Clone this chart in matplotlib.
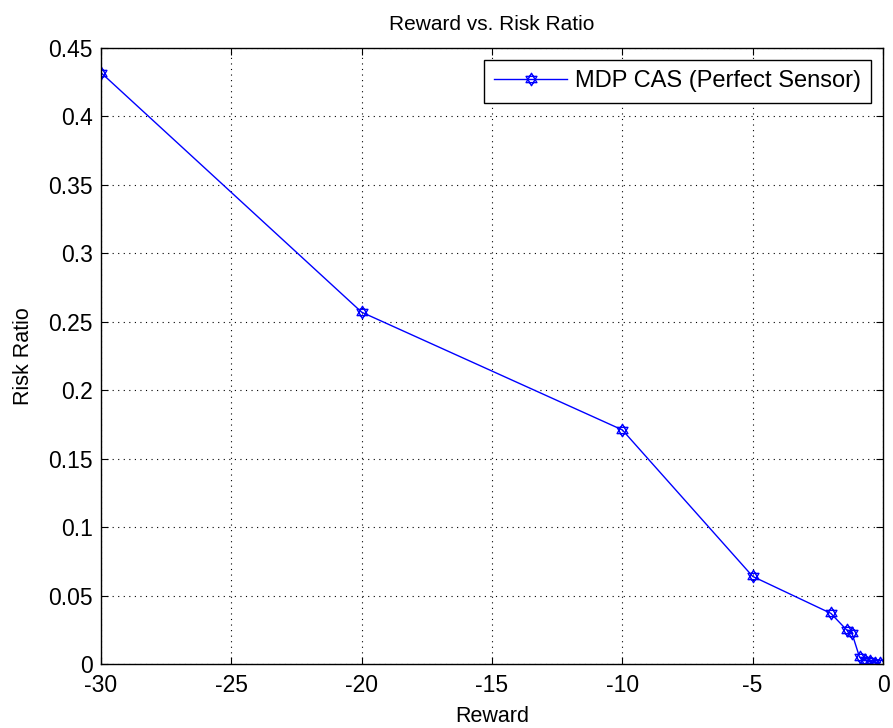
import numpy as np
import matplotlib.pyplot as plt
from matplotlib.path import Path

plt.rcParams['font.family'] = ['Liberation Sans', 'DejaVu Sans']
plt.rcParams['axes.unicode_minus'] = False

# reward setting vs. resulting risk ratio
reward = [-30, -20, -10, -5, -2, -1.4, -1.2, -0.9, -0.7, -0.5, -0.3, -0.1]
risk_ratio = [0.432, 0.257, 0.171, 0.064, 0.037, 0.025, 0.023, 0.005, 0.003, 0.002, 0.001, 0.001]

# hexagram marker: two overlapping triangles
ang = np.deg2rad(np.array([90, 210, 330]))
tri_up = np.column_stack([np.cos(ang), np.sin(ang)])
tri_dn = -tri_up
verts = np.vstack([tri_up, tri_up[:1], tri_dn, tri_dn[:1]])
codes = [Path.MOVETO, Path.LINETO, Path.LINETO, Path.CLOSEPOLY] * 2
hexagram = Path(verts, codes)

fig = plt.figure(figsize=(8.93, 7.28), dpi=100)
ax = fig.add_axes([101 / 893, 64 / 728, 782 / 893, 616 / 728])

ax.plot(reward, risk_ratio, color='blue', lw=1, marker=hexagram, ms=9,
        mfc='none', mec='blue', mew=1, label='MDP CAS (Perfect Sensor)')

ax.set_xlim(-30, 0)
ax.set_ylim(0, 0.45)
ax.set_xticks(np.arange(-30, 1, 5))
ax.set_yticks(np.arange(0, 0.451, 0.05))
ax.set_yticklabels(['0', '0.05', '0.1', '0.15', '0.2', '0.25', '0.3', '0.35', '0.4', '0.45'])
ax.grid(True, color='black', linestyle=(0, (1, 4)), lw=0.8)
ax.tick_params(direction='in', top=True, right=True, labelsize=16.5, length=5)
ax.tick_params(axis='x', pad=7)
ax.tick_params(axis='y', pad=6)
for s in ax.spines.values():
    s.set_linewidth(1)

ax.set_xlabel('Reward', fontsize=15.5, labelpad=7)
ax.set_ylabel('Risk Ratio', fontsize=15.5, labelpad=10)
ax.set_title('Reward vs. Risk Ratio', fontsize=15, pad=13)

leg = ax.legend(loc='upper right', fontsize=17, fancybox=False, framealpha=1,
                edgecolor='black', handlelength=3.1, handletextpad=0.3,
                borderaxespad=0.5, borderpad=0.45)
leg.get_frame().set_linewidth(1)

fig.savefig('out.png', dpi=100)
